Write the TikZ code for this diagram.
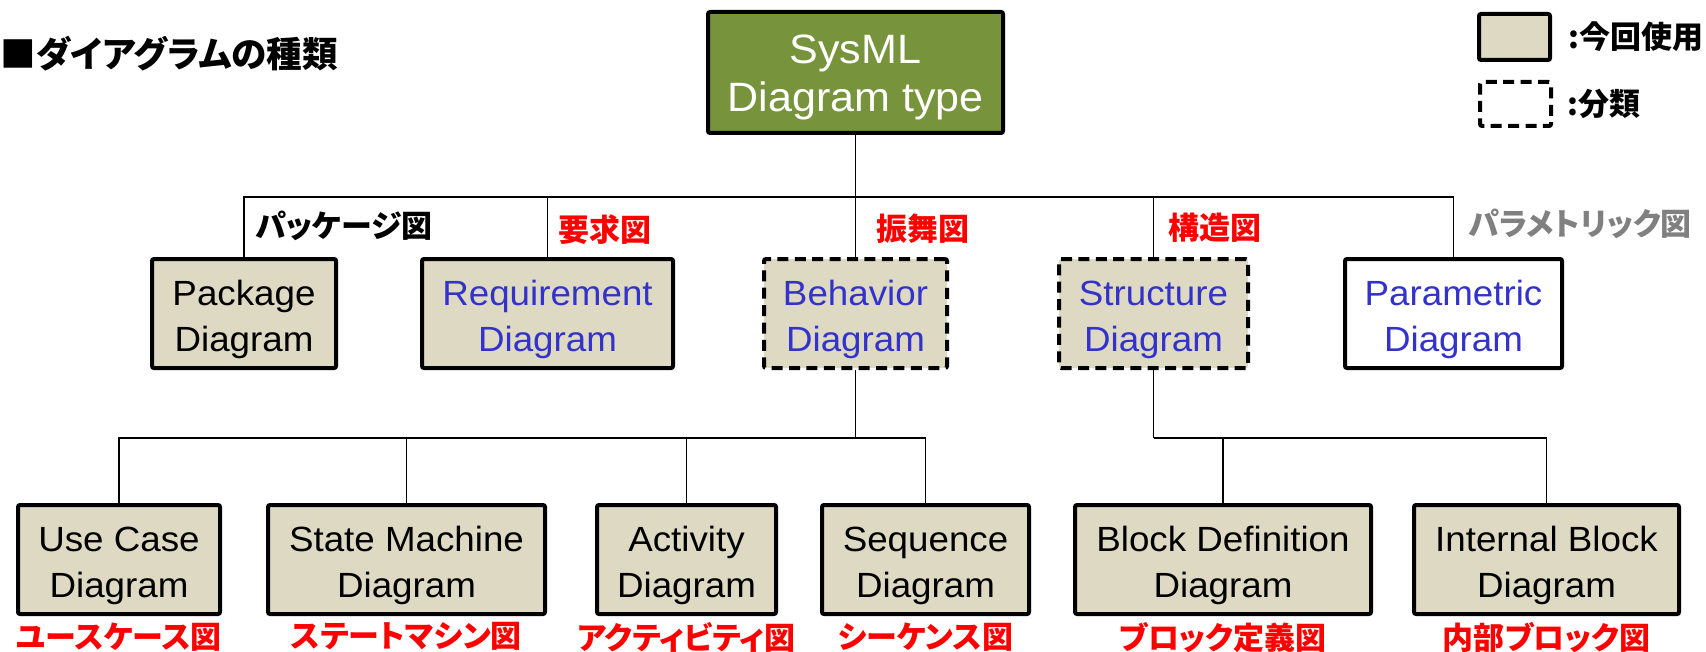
\documentclass[tikz,border=0pt]{standalone}
\usepackage{fontspec}
\setmainfont{Liberation Sans}[FakeStretch=1.05]
\newfontfamily\jp{Noto Sans CJK JP}[CharacterWidth=AlternateProportional]
\usetikzlibrary{positioning}
\definecolor{sysgreen}{HTML}{77933C}
\definecolor{boxfill}{HTML}{DDD9C3}
\definecolor{txtblue}{HTML}{3333CC}
\definecolor{lblgray}{HTML}{808080}
\begin{document}
\begin{tikzpicture}[x=0.5pt, y=-0.5pt,
        diag/.style={draw, line width=2pt, fill=boxfill, rounded corners=1pt, align=center,
            inner sep=0pt, minimum height=54.5pt, text height=41.9pt, font=\fontsize{17.5}{23}\selectfont},
        cat/.style={diag, dash pattern=on 5.5pt off 3.2pt},
        lbl/.style={font=\jp\bfseries\fontsize{15.5}{17}\selectfont, text=red, inner sep=0pt, text height=},
        conn/.style={line width=0.7pt}]
        % Bildbereich
        \useasboundingbox (0,0) rectangle (1706,652);
        % Titel und Legende
        \node[font=\jp\bfseries\fontsize{17.8}{20}\selectfont, anchor=west, inner sep=0pt] (titel) at (0,54) {■ダイアグラムの種類};
        \node[diag, text height=, minimum width=35.5pt, minimum height=23pt] (leg1) at (1514.5,37) {};
        \node[cat, text height=, fill=white, minimum width=35.5pt, minimum height=22pt] (leg2) at (1515.5,104) {};
        \node[lbl, text=black, right=8pt of leg1] (leg1txt) {:今回使用};
        \node[lbl, text=black, right=7pt of leg2] (leg2txt) {:分類};
        % Wurzel
        \node[diag, fill=sysgreen, text=white, minimum width=147.5pt, minimum height=60.5pt,
            text height=43.5pt, font=\fontsize{20.5}{24}\selectfont] (root) at (855.5,72.5) {SysML\\Diagram type};
        % erste Ebene
        \node[diag, minimum width=92pt] (pkg) at (244,313.5) {Package\\Diagram};
        \node[diag, text=txtblue, minimum width=125.5pt] (req) at (547.5,313.5) {Requirement\\Diagram};
        \node[cat, text=txtblue, minimum width=91.5pt] (beh) at (855.5,313.5) {Behavior\\Diagram};
        \node[cat, text=txtblue, minimum width=94.5pt] (str) at (1153.5,313.5) {Structure\\Diagram};
        \node[diag, fill=white, text=txtblue, minimum width=108.5pt] (par) at (1453.5,313.5) {Parametric\\Diagram};
        \node[lbl, text=black, anchor=west] (pkglbl) at (255,226) {パッケージ図};
        \node[lbl, anchor=west] (reqlbl) at (558,230) {要求図};
        \node[lbl, anchor=west] (behlbl) at (876,229) {振舞図};
        \node[lbl, anchor=west] (strlbl) at (1168,228) {構造図};
        \node[lbl, text=lblgray, anchor=west] (parlbl) at (1468,224) {パラメトリック図};
        % zweite Ebene
        \node[diag, minimum width=101pt] (uc) at (119,559.5) {Use Case\\Diagram};
        \node[diag, minimum width=138.5pt] (sm) at (406.5,559.5) {State Machine\\Diagram};
        \node[diag, minimum width=89.5pt] (act) at (686.5,559.5) {Activity\\Diagram};
        \node[diag, minimum width=103.5pt] (seq) at (925.5,559.5) {Sequence\\Diagram};
        \node[diag, minimum width=148pt] (bdd) at (1223,559.5) {Block Definition\\Diagram};
        \node[diag, minimum width=132.5pt] (ibd) at (1546.5,559.5) {Internal Block\\Diagram};
        \node[lbl, below=3pt of uc] (uclbl) {ユースケース図};
        \node[lbl, below=3pt of sm] (smlbl) {ステートマシン図};
        \node[lbl, below=3pt of act] (actlbl) {アクティビティ図};
        \node[lbl, below=3pt of seq] (seqlbl) {シーケンス図};
        \node[lbl, below=3pt of bdd] (bddlbl) {ブロック定義図};
        \node[lbl, below=3pt of ibd] (ibdlbl) {内部ブロック図};
        % Verbindungen
        \coordinate (bus1) at (855.5,197);
        \coordinate (bus2) at (855.5,438);
        \coordinate (bus3) at (1153.5,438);
        \draw[conn] (root.south) -- (bus1);
        \foreach \n in {pkg,req,beh,str,par} \draw[conn] (bus1) -| (\n.north);
        \draw[conn] (beh.south) -- (bus2);
        \foreach \n in {uc,sm,act,seq} \draw[conn] (bus2) -| (\n.north);
        \draw[conn] (str.south) -- (bus3);
        \foreach \n in {bdd,ibd} \draw[conn] (bus3) -| (\n.north);
    \end{tikzpicture}
\end{document}
